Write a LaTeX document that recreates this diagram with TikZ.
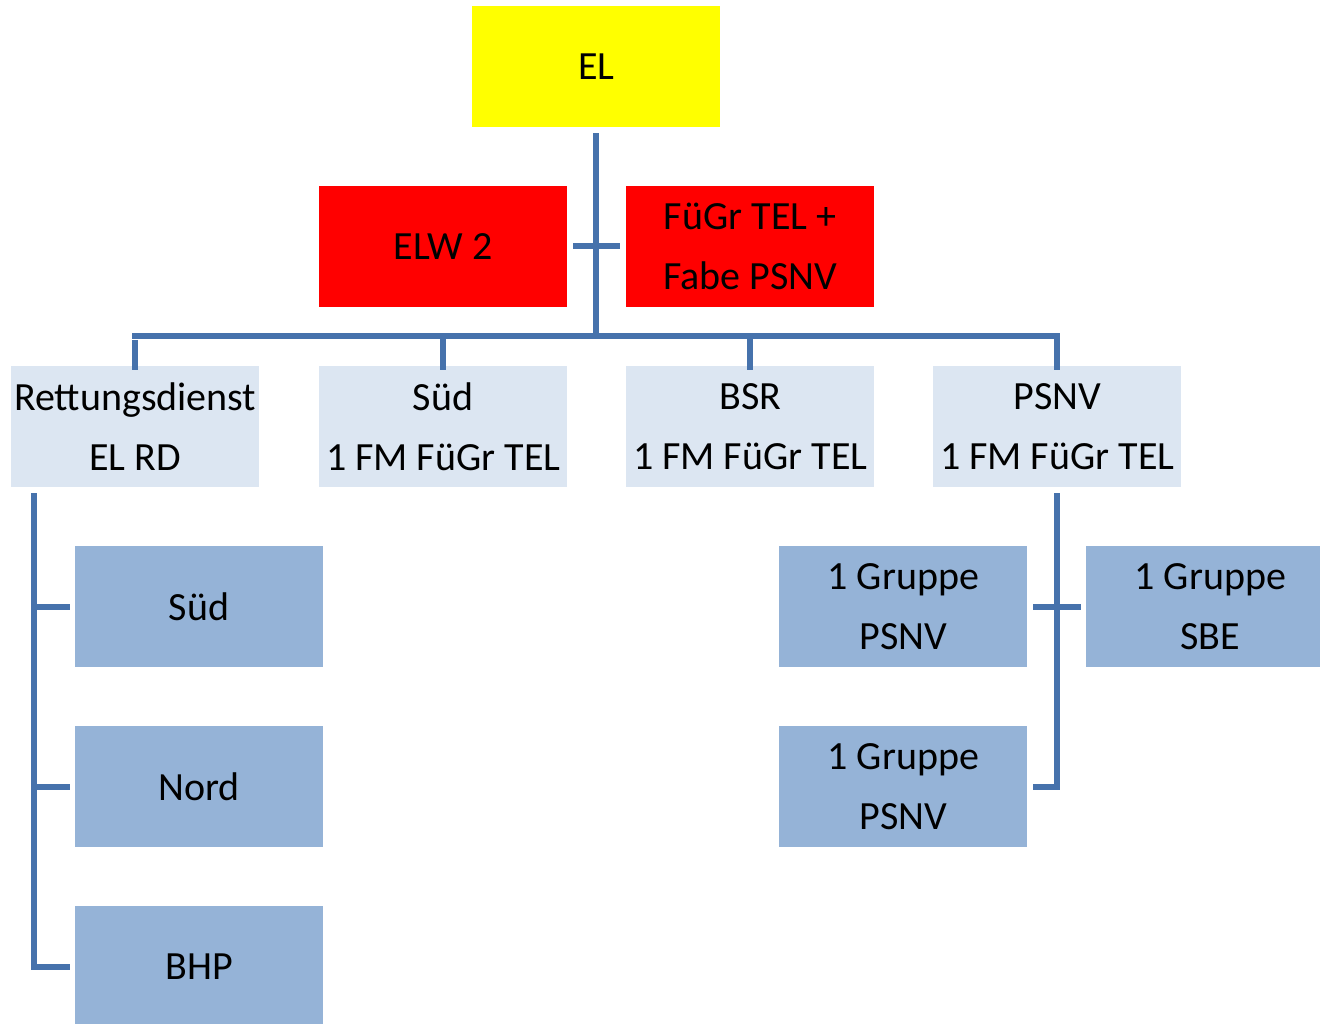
\documentclass[tikz,border=0pt]{standalone}
\usepackage{fontspec}
\setmainfont{Carlito}
\definecolor{elyellow}{HTML}{FFFF00}
\definecolor{elred}{HTML}{FF0000}
\definecolor{lightbox}{HTML}{DCE6F2}
\definecolor{midbox}{HTML}{95B3D7}
\definecolor{linkblue}{HTML}{4672AC}
\tikzset{
  unit/.style={minimum width=248pt, minimum height=121pt, inner sep=0pt, anchor=north west,
    align=center, font=\fontsize{40}{60}\selectfont},
  topbox/.style={unit, fill=elyellow},
  staffbox/.style={unit, fill=elred},
  sectbox/.style={unit, fill=lightbox},
  unitbox/.style={unit, fill=midbox},
  link/.style={draw=linkblue, line width=6pt}
}
\begin{document}
\begin{tikzpicture}[x=1pt, y=-1pt]
\useasboundingbox (0,0) rectangle (1320,1024);
\clip (0,0) rectangle (1320,1024);
% top level and staff
\node[topbox] (el) at (472,6) {EL};
\node[staffbox] (elw) at (319,186) {ELW 2};
\node[staffbox] (fuegr) at (626,186) {FüGr TEL +\\Fabe PSNV};
% sections
\node[sectbox] (rd) at (11,366) {Rettungsdienst\\EL RD};
\node[sectbox] (sued) at (319,366) {Süd\\1 FM FüGr TEL};
\node[sectbox] (bsr) at (626,366) {BSR\\1 FM FüGr TEL};
\node[sectbox] (psnv) at (933,366) {PSNV\\1 FM FüGr TEL};
% units below Rettungsdienst
\node[unitbox] (rdsued) at (75,546) {Süd};
\node[unitbox] (rdnord) at (75,726) {Nord};
\node[unitbox] (rdbhp) at (75,906) {BHP};
% units below PSNV
\node[unitbox] (grp1) at (779,546) {1 Gruppe\\PSNV};
\node[unitbox] (grpsbe) at (1086,546) {1 Gruppe\\SBE};
\node[unitbox] (grp2) at (779,726) {1 Gruppe\\PSNV};

% junction points
\coordinate (topbar) at (596,336);
\coordinate (staffjoin) at (596,246);
% trunk from EL to the section bar
\draw[link] ([yshift=-6pt]el.south -| topbar) -- (topbar);
\draw[link] ([xshift=6pt]elw.east |- staffjoin) -- ([xshift=-6pt]fuegr.west |- staffjoin);
% section bar with drops
\draw[link] ([yshift=-4pt]rd.north |- topbar) -- ([yshift=-4pt]rd.north);
\draw[link, line cap=rect] (rd.north |- topbar) -- (psnv.north |- topbar);
\draw[link] (psnv.north |- topbar) -- ([yshift=-4pt]psnv.north);
\draw[link] (sued.north |- topbar) -- ([yshift=-4pt]sued.north);
\draw[link] (bsr.north |- topbar) -- ([yshift=-4pt]bsr.north);
% Rettungsdienst branch
\coordinate (rdtrunk) at (34,493);
\draw[link] (rdtrunk) -- (rdtrunk |- rdbhp.west) -- ([xshift=-5pt]rdbhp.west);
\draw[link] (rdtrunk |- rdsued.west) -- ([xshift=-5pt]rdsued.west);
\draw[link] (rdtrunk |- rdnord.west) -- ([xshift=-5pt]rdnord.west);
% PSNV branch
\coordinate (psnvtrunk) at (1057,493);
\draw[link] (psnvtrunk) -- (psnvtrunk |- grp2.east) -- ([xshift=6pt]grp2.east);
\draw[link] ([xshift=6pt]grp1.east) -- ([xshift=-5pt]grpsbe.west);
\end{tikzpicture}
\end{document}
